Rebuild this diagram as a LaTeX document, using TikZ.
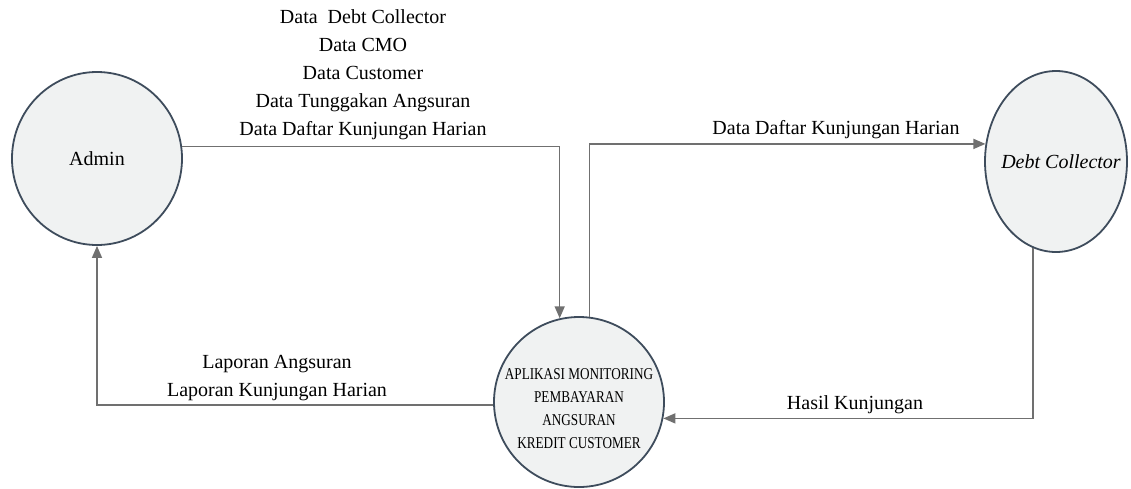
\documentclass[tikz,border=0pt]{standalone}
\usepackage{fontspec}
\setmainfont{Liberation Serif}
\newfontfamily\condfont[FakeStretch=0.8]{Liberation Serif}
\usetikzlibrary{shapes.geometric,arrows.meta}
\definecolor{fillc}{RGB}{240,242,242}
\definecolor{edgec}{RGB}{62,76,92}
\definecolor{linec}{RGB}{112,112,112}
\begin{document}
\begin{tikzpicture}[x=1pt,y=-1pt,
  entity/.style={ellipse,draw=edgec,fill=fillc,line width=1.8pt,inner sep=0pt},
  entitytext/.style={font=\fontsize{20}{24}\selectfont,align=center,inner sep=0pt},
  proctext/.style={font=\condfont\fontsize{16.5}{23}\selectfont,align=center,inner sep=0pt},
  flow/.style={draw=linec,line width=1.5pt,-{Triangle[length=12pt,width=10pt]}},
  lbl/.style={font=\fontsize{20}{28}\selectfont,align=center,inner sep=0pt}]
\useasboundingbox (0,0) rectangle (1131,488);
\node[entity,minimum width=170pt,minimum height=173pt,
  label={[entitytext]center:Admin}] (admin) at (97,158.5) {};
\node[entity,minimum width=142pt,minimum height=181pt,
  label={[entitytext,xshift=5pt]center:\itshape Debt Collector}] (dc) at (1056,161.5) {};
\node[entity,minimum width=170pt,minimum height=170pt,
  label={[proctext,yshift=-7pt]center:APLIKASI MONITORING\\PEMBAYARAN\\ANGSURAN\\KREDIT CUSTOMER}] (proc) at (579,402) {};
\draw[flow] (admin.8) -| (proc.103);
\draw[flow] (proc.83) |- (dc.166);
\draw[flow] (dc.255) |- (proc.349);
\draw[flow] (proc.182) -| (admin.south);
\node[lbl] (l1) at (363,75) {Data\ \ Debt Collector\\Data CMO\\Data Customer\\Data Tunggakan Angsuran\\Data Daftar Kunjungan Harian};
\node[lbl] (l2) at (836,130) {Data Daftar Kunjungan Harian};
\node[lbl] (l3) at (277,378) {Laporan Angsuran\\Laporan Kunjungan Harian};
\node[lbl] (l4) at (855,405) {Hasil Kunjungan};
\end{tikzpicture}
\end{document}
